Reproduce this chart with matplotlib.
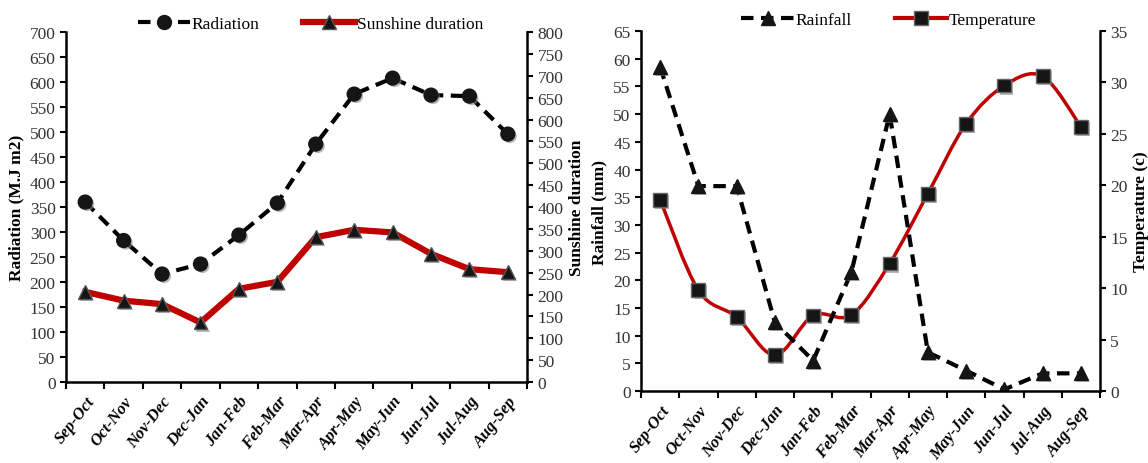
import matplotlib.pyplot as plt
from matplotlib.path import Path
from matplotlib.patches import PathPatch
from matplotlib.lines import Line2D
import matplotlib.patheffects as pe
import numpy as np

plt.rcParams['font.family'] = ['Liberation Serif', 'DejaVu Serif']

periods = ['Sep-Oct', 'Oct-Nov', 'Nov-Dec', 'Dec-Jan', 'Jan-Feb', 'Feb-Mar',
           'Mar-Apr', 'Apr-May', 'May-Jun', 'Jun-Jul', 'Jul-Aug', 'Aug-Sep']
radiation = [360, 283, 216, 236, 294, 358, 476, 576, 608, 574, 572, 496]
sunshine = [206, 186, 178, 136, 213, 229, 331, 348, 342, 293, 258, 251]
rainfall = [58.5, 37, 37, 12.4, 5.5, 21.5, 50, 7.0, 3.7, 0.3, 3.2, 3.2]
temperature = [18.6, 9.8, 7.2, 3.5, 7.35, 7.4, 12.4, 19.2, 26.0, 29.7, 30.6, 25.7]

RED = '#C00000'
DARK = '#151515'
x = np.arange(len(periods))
shadow = [pe.SimplePatchShadow(offset=(1.5, -1.5), shadow_rgbFace='#888888', alpha=0.6),
          pe.Normal()]


def smooth_path(xs, ys):
    # Excel-style smoothed line as cubic Bezier segments
    xs = np.asarray(xs, float)
    ys = np.asarray(ys, float)
    n = len(xs)
    verts = [(xs[0], ys[0])]
    codes = [Path.MOVETO]
    for i in range(n - 1):
        p0 = np.array([xs[max(i - 1, 0)], ys[max(i - 1, 0)]])
        p1 = np.array([xs[i], ys[i]])
        p2 = np.array([xs[i + 1], ys[i + 1]])
        p3 = np.array([xs[min(i + 2, n - 1)], ys[min(i + 2, n - 1)]])
        c1 = p1 + (p2 - p0) / 6
        c2 = p2 - (p3 - p1) / 6
        verts += [tuple(c1), tuple(c2), tuple(p2)]
        codes += [Path.CURVE4] * 3
    return Path(verts, codes)


def style_axes(ax, ax2):
    ax.set_xlim(-0.5, len(periods) - 0.5)
    ax.set_xticks(np.arange(-0.5, len(periods), 1))
    ax.set_xticklabels([])
    ax.set_xticks(x, minor=True)
    ax.set_xticklabels(periods, minor=True, rotation=52, ha='right',
                       rotation_mode='anchor', fontweight='bold',
                       fontstyle='italic', fontsize=12)
    ax.tick_params(axis='x', which='minor', length=0, pad=8)
    ax.tick_params(axis='x', which='major', direction='out', length=5, width=1.5)
    for a in (ax, ax2):
        a.tick_params(axis='y', direction='out', length=4, width=1.5,
                      labelsize=12.5, labelcolor='#333333')
        a.spines['top'].set_visible(False)
        for s in ('left', 'right', 'bottom'):
            a.spines[s].set_linewidth(1.8)
    ax.spines['right'].set_visible(False)
    ax2.spines['left'].set_visible(False)
    ax2.spines['bottom'].set_visible(False)


fig = plt.figure(figsize=(11.48, 4.64), dpi=100)

# left panel: radiation and sunshine duration
ax1 = fig.add_axes([0.0575, 0.1746, 0.4016, 0.754])
ax1b = ax1.twinx()
ax1.set_zorder(ax1b.get_zorder() + 1)
ax1.patch.set_visible(False)
ax1.plot(x, radiation, color='black', lw=3, ls=(0, (3, 1.8)))
ax1.plot(x, radiation, ls='none', marker='o', ms=10, mfc=DARK, mec=DARK,
         path_effects=shadow)
ax1b.plot(x, sunshine, color=RED, lw=4.5)
ax1b.plot(x, sunshine, ls='none', marker='^', ms=10, mfc=DARK, mec='#555555',
          path_effects=shadow)
l_rad = Line2D([], [], color='black', lw=3, ls=(0, (3, 1.8)), marker='o', ms=10,
               mfc=DARK, mec=DARK, label='Radiation')
l_sun = Line2D([], [], color=RED, lw=4.5, marker='^', ms=10, mfc=DARK,
               mec='#555555', label='Sunshine duration')
ax1.set_ylim(0, 700)
ax1.set_yticks(range(0, 701, 50))
ax1b.set_ylim(0, 800)
ax1b.set_yticks(range(0, 801, 50))
ax1.set_ylabel('Radiation (M.J m2)', fontweight='bold', fontsize=12.5, labelpad=4)
ax1b.set_ylabel('Sunshine duration', fontweight='bold', fontsize=12.5, labelpad=4)
style_axes(ax1, ax1b)
ax1.legend(handles=[l_rad, l_sun], loc='lower center', bbox_to_anchor=(0.53, 0.98),
           ncol=2, frameon=False, fontsize=12.5, handlelength=3.0,
           handletextpad=0.1, columnspacing=2.5, borderaxespad=0)

# right panel: rainfall and temperature
ax2 = fig.add_axes([0.5584, 0.155, 0.3998, 0.776])
ax2b = ax2.twinx()
ax2.set_zorder(ax2b.get_zorder() + 1)
ax2.patch.set_visible(False)
ax2.plot(x, rainfall, color='black', lw=3, ls=(0, (3, 1.8)))
ax2.plot(x, rainfall, ls='none', marker='^', ms=10, mfc=DARK, mec=DARK,
         path_effects=shadow)
ax2b.add_patch(PathPatch(smooth_path(x, temperature), fc='none', ec=RED, lw=2.5))
ax2b.plot(x, temperature, ls='none', marker='s', ms=10, mfc=DARK, mec='#666666',
          path_effects=shadow)
l_rain = Line2D([], [], color='black', lw=3, ls=(0, (3, 1.8)), marker='^', ms=10,
                mfc=DARK, mec=DARK, label='Rainfall')
l_temp = Line2D([], [], color=RED, lw=3, marker='s', ms=10, mfc=DARK,
                mec='#666666', label='Temperature')
ax2.set_ylim(0, 65)
ax2.set_yticks(range(0, 66, 5))
ax2b.set_ylim(0, 35)
ax2b.set_yticks(range(0, 36, 5))
ax2.set_ylabel('Rainfall (mm)', fontweight='bold', fontsize=12.5, labelpad=4)
ax2b.set_ylabel('Temperature (c)', fontweight='bold', fontsize=12.5, labelpad=4)
style_axes(ax2, ax2b)
ax2.legend(handles=[l_rain, l_temp], loc='lower center', bbox_to_anchor=(0.54, 0.99),
           ncol=2, frameon=False, fontsize=12.5, handlelength=3.0,
           handletextpad=0.1, columnspacing=2.5, borderaxespad=0)

fig.savefig('out.png', dpi=100)
